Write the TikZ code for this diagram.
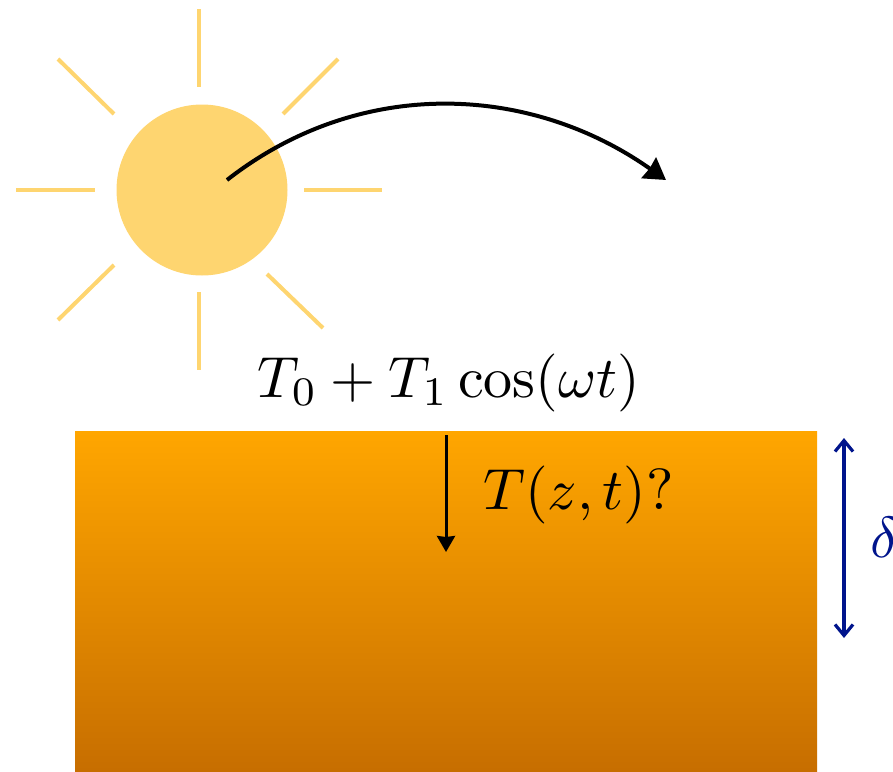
\documentclass[tikz,border=0pt]{standalone}
\usetikzlibrary{arrows.meta}
\definecolor{sunc}{RGB}{254,213,112}
\definecolor{blu}{RGB}{0,20,140}
\tikzset{ray/.style={draw=sunc,line width=4pt},
 lab/.style={inner sep=0pt,scale=5.8,anchor=base}}
\begin{document}
\begin{tikzpicture}[x=1pt,y=-1pt]
\useasboundingbox (0,0) rectangle (893,771);
\shade[top color={rgb,255:red,255;green,166;blue,0},bottom color={rgb,255:red,199;green,110;blue,0},shading=axis] (75,431) rectangle (817,771);
\node[circle,fill=sunc,minimum size=171pt,inner sep=0pt] (sun) at (202,190) {};
\coordinate (r1a) at (199,9);\coordinate (r1b) at (199,87);
\coordinate (r2a) at (338,59);\coordinate (r2b) at (283,114);
\coordinate (r3a) at (304,190);\coordinate (r3b) at (382,190);
\coordinate (r4a) at (267,274);\coordinate (r4b) at (323,328);
\coordinate (r5a) at (199,292);\coordinate (r5b) at (199,370);
\coordinate (r6a) at (114,265);\coordinate (r6b) at (58,320);
\coordinate (r7a) at (16,190);\coordinate (r7b) at (95,190);
\coordinate (r8a) at (58,59);\coordinate (r8b) at (114,114);
\foreach \i in {1,...,8}{\draw[ray] (r\i a) -- (r\i b);}
\coordinate (arcs) at (227,180);\coordinate (arce) at (666,180);
\draw[line width=4pt,-{Stealth[length=21pt,width=25pt,inset=1pt]}] (arcs) .. controls (360,76) and (530,84) .. (arce);
\node[lab] (t0) at (449,397) {$T_0+T_1\cos(\omega t)$};
\coordinate (da) at (446,435);\coordinate (db) at (446,552);
\draw[line width=3pt,-{Stealth[length=16pt,width=18pt,inset=1pt]}] (da) -- (db);
\node[lab] (tz) at (578.5,509) {$T(z,t)?$};
\coordinate (ba) at (844,438);\coordinate (bb) at (844,638);
\draw[blu,line width=3.2pt,{Straight Barb[length=11pt,width=18pt]}-{Straight Barb[length=11pt,width=18pt]}] (ba) -- (bb);
\node[lab,text=blu] (dl) at (884,557) {$\delta$};
\end{tikzpicture}
\end{document}
